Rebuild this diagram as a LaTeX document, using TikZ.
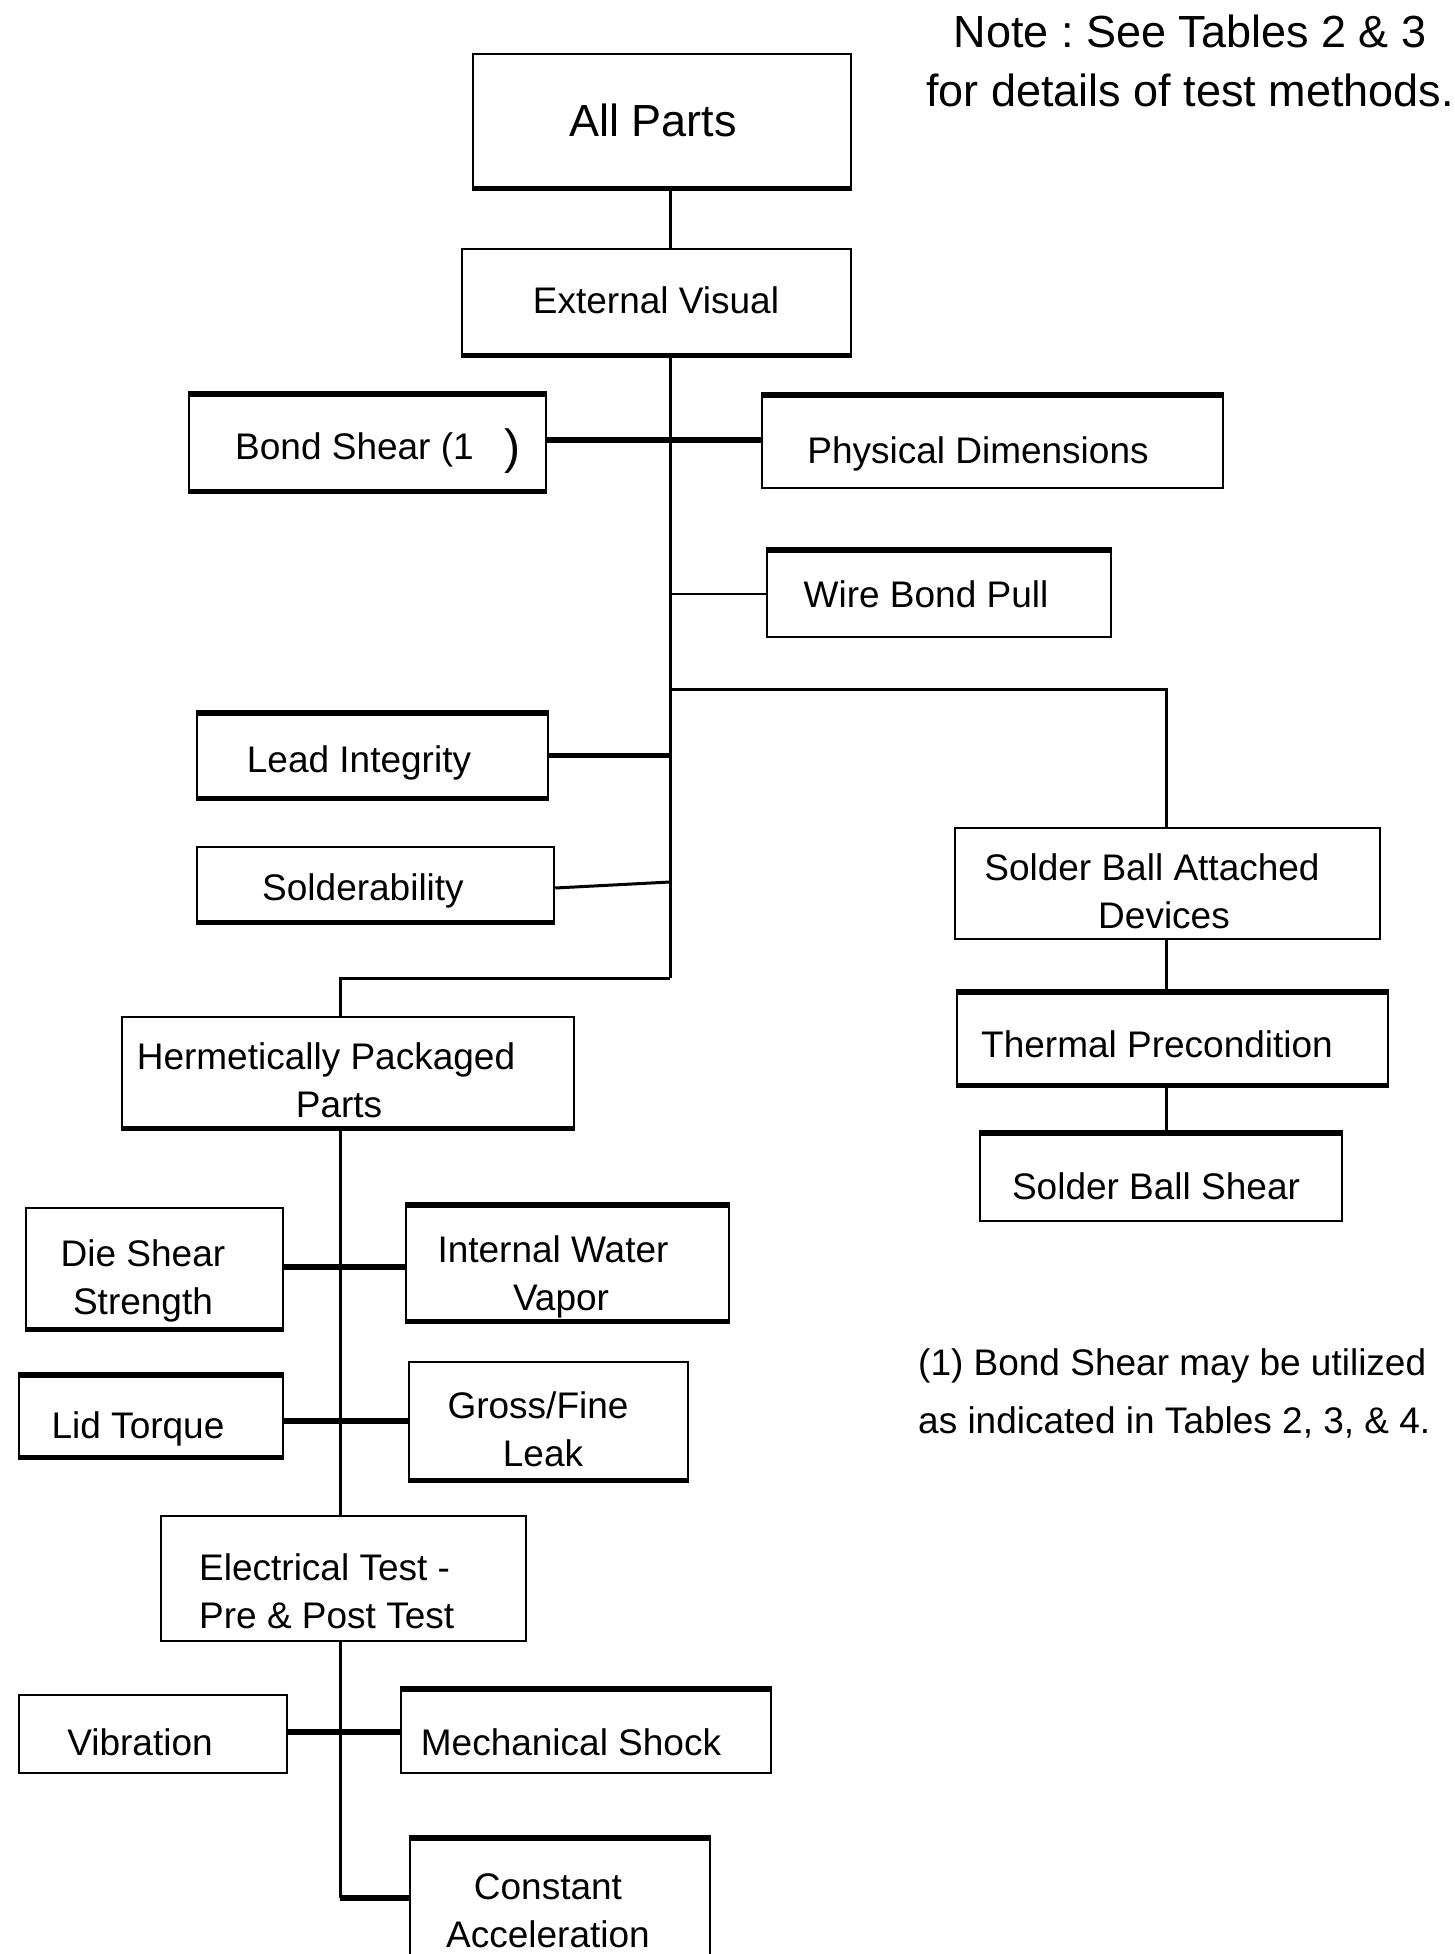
\documentclass[tikz,border=0pt]{standalone}
\usepackage{fontspec}
\setmainfont{Liberation Sans}
\usetikzlibrary{fit,calc}
\frenchspacing

\tikzset{
  box/.style={draw, line width=2.5pt, inner sep=0pt},
  heavy/.style={line width=5.5pt},
  wire/.style={line width=3pt},
  wirethick/.style={line width=5.5pt},
  wirethin/.style={line width=2pt},
  lbl/.style={font=\fontsize{37}{48}\selectfont, inner sep=0pt, align=center},
  big/.style={font=\fontsize{45}{59}\selectfont, inner sep=0pt, align=center},
}

\begin{document}
\begin{tikzpicture}[x=1pt, y=-1pt]
\useasboundingbox (0,0) rectangle (1455,1954);

% ---- boxes ----
\node[box, fit={(473,54) (851,187)}]     (allparts) {};
\node[box, fit={(462,249) (851,354)}]    (extvis) {};
\node[box, fit={(189,395) (546,490)}]    (bond) {};
\node[box, fit={(762,396) (1223,488)}]   (phys) {};
\node[box, fit={(767,551) (1111,637)}]   (wbp) {};
\node[box, fit={(197,714) (548,797)}]    (lead) {};
\node[box, fit={(197,847) (554,921)}]    (sold) {};
\node[box, fit={(122,1017) (574,1127)}]  (herm) {};
\node[box, fit={(955,828) (1380,939)}]   (sbad) {};
\node[box, fit={(957,993) (1388,1084)}]  (therm) {};
\node[box, fit={(980,1134) (1342,1221)}] (sbs) {};
\node[box, fit={(26,1208) (283,1328)}]   (die) {};
\node[box, fit={(406,1206) (729,1320)}]  (iwv) {};
\node[box, fit={(19,1376) (283,1456)}]   (lid) {};
\node[box, fit={(409,1362) (688,1479)}]  (gross) {};
\node[box, fit={(161,1516) (526,1641)}]  (elec) {};
\node[box, fit={(19,1695) (287,1773)}]   (vib) {};
\node[box, fit={(401,1690) (771,1773)}]  (mech) {};
\node[box, fit={(410,1839) (710,1995)}]  (const) {};

% heavier top and bottom edges
\foreach \n in {bond,phys,wbp,lead,therm,sbs,iwv,lid,mech,const}
  \draw[heavy] (\n.north west) -- (\n.north east);
\foreach \n in {allparts,extvis,bond,lead,sold,therm,herm,die,iwv,lid,gross}
  \draw[heavy] (\n.south west) -- (\n.south east);

% ---- labels ----
\node[big, anchor=base] (allparts-t) at (653,136) {All Parts};
\node[lbl, anchor=base] (extvis-t) at (656,313) {External Visual};
\node[lbl, anchor=base west] (bond-t) at (235,459)
  {Bond Shear (1\hspace{31pt}\raisebox{-4pt}{\fontsize{48}{48}\selectfont )}};
\node[lbl, anchor=base] (phys-t) at (978,463) {Physical Dimensions};
\node[lbl, anchor=base] (wbp-t) at (926,607) {Wire Bond Pull};
\node[lbl, anchor=base] (lead-t) at (359,772) {Lead Integrity};
\node[lbl, anchor=base] (sold-t) at (363,900) {Solderability};
\node[lbl] (herm-t) at (326,1080) {Hermetically Packaged\\\hspace*{26pt}Parts};
\node[lbl] (sbad-t) at (1152,891) {Solder Ball Attached\\\hspace*{24pt}Devices};
\node[lbl, anchor=base] (therm-t) at (1157,1057) {Thermal Precondition};
\node[lbl, anchor=base] (sbs-t) at (1156,1199) {Solder Ball Shear};
\node[lbl] (die-t) at (143,1281) {Die Shear\\Strength};
\node[lbl] (iwv-t) at (553,1277) {Internal Water\\\hspace*{16pt}Vapor};
\node[lbl, anchor=base] (lid-t) at (138,1438) {Lid Torque};
\node[lbl] (gross-t) at (538,1429) {Gross/Fine\\\hspace*{10pt}Leak};
\node[lbl, anchor=west, align=left] (elec-t) at (199,1591) {Electrical Test -\\Pre \& Post Test};
\node[lbl, anchor=base] (vib-t) at (140,1755) {Vibration};
\node[lbl, anchor=base] (mech-t) at (571,1755) {Mechanical Shock};
\node[lbl] (const-t) at (548,1911) {Constant\\Acceleration};

\node[big] (note) at (1190,61) {Note : See Tables 2 \& 3\\for details of test methods.};
\node[lbl, font=\fontsize{37}{58}\selectfont, anchor=west, align=left] (foot) at (918,1393)
  {(1) Bond Shear may be utilized\\as indicated in Tables 2, 3, \& 4.};

% ---- connectors ----
\coordinate (tx) at (670,0);
\coordinate (lx) at (340,0);
\coordinate (rx) at (1166,0);
\coordinate (tsplit) at (670,689);
\coordinate (tsold) at (670,882);
\coordinate (tbot) at (670,978);
\coordinate (jbond) at (670,440);
\coordinate (jdie) at (340,1267);
\coordinate (jlid) at (340,1421);
\coordinate (jvib) at (340,1732);
\coordinate (jconst) at (340,1898);

\draw[wire] (allparts.south -| tx) -- (extvis.north -| tx);
\draw[wire] (extvis.south -| tx) -- (tbot);
\draw[wirethick] (bond.east |- jbond) -- (phys.west |- jbond);
\draw[wirethin] (wbp.west -| tx) -- (wbp.west);
\draw[wire] (tsplit) -| (sbad.north -| rx);
\draw[wirethick] (lead.east) -- (lead.east -| tx);
\draw[wire] ($(sold.east)+(0,4)$) -- (tsold);
\draw[wire, line join=miter] (tbot) -| (herm.north -| lx);

\draw[wire] (sbad.south -| rx) -- (therm.north -| rx);
\draw[wire] (therm.south -| rx) -- (sbs.north -| rx);

\draw[wire] (herm.south -| lx) -- (elec.north -| lx);
\draw[wire] (elec.south -| lx) -- (jconst);
\draw[wirethick] (die.east |- jdie) -- (iwv.west |- jdie);
\draw[wirethick] (lid.east |- jlid) -- (gross.west |- jlid);
\draw[wirethick] (vib.east |- jvib) -- (mech.west |- jvib);
\draw[wirethick] (jconst) -- (const.west |- jconst);
\end{tikzpicture}
\end{document}
